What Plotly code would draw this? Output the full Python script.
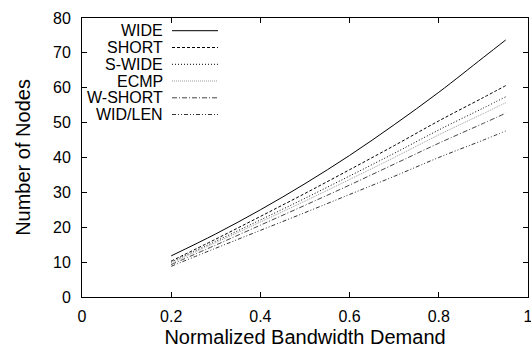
import plotly.graph_objects as go

x_vals = [0.2, 0.3, 0.4, 0.5, 0.6, 0.7, 0.8, 0.9, 0.95]
wide = [11.8, 18.1, 25.0, 32.5, 40.6, 49.4, 58.7, 68.7, 73.7]
short = [10.3, 16.6, 23.1, 29.7, 36.5, 43.4, 50.5, 57.2, 60.6]
s_wide = [10.0, 16.0, 22.1, 28.3, 34.7, 41.2, 47.9, 54.2, 57.4]
ecmp = [9.7, 15.6, 21.5, 27.5, 33.7, 40.0, 46.5, 52.6, 55.7]
w_short = [9.3, 14.9, 20.6, 26.3, 32.1, 38.1, 44.1, 49.8, 52.7]
wid_len = [8.8, 14.0, 19.1, 24.2, 29.4, 34.6, 40.0, 45.0, 47.6]

series_names = ["WIDE", "SHORT", "S-WIDE", "ECMP", "W-SHORT", "WID/LEN"]
series_vals = [wide, short, s_wide, ecmp, w_short, wid_len]
styles = [
    ("#000000", "solid"),
    ("#000000", "3px,2px"),
    ("#000000", "1px,2px"),
    ("#999999", "1px,1px"),
    ("#444444", "5px,2px,1px,2px"),
    ("#333333", "4px,2px,1px,2px,1px,2px"),
]

FONT = "Liberation Sans, Arial"

fig = go.Figure()
for name, vals, (col, dash) in zip(series_names, series_vals, styles):
    fig.add_trace(go.Scatter(x=x_vals, y=vals, mode="lines", name=name,
                             line=dict(color=col, width=1, dash=dash, shape="spline"),
                             showlegend=False))

# manual gnuplot-style legend (text right, sample to its right)
W, H = 531, 348
ml, mr, mt, mb = 82, 3, 18, 51
pw, ph = W - ml - mr, H - mt - mb
row_y = [30.7, 47.5, 64.3, 81.0, 97.8, 114.5]
for i, (name, (col, dash)) in enumerate(zip(series_names, styles)):
    yp = 1 - (row_y[i] - mt) / ph
    fig.add_annotation(x=(162 - ml) / pw, y=yp, xref="paper", yref="paper",
                       text=name, showarrow=False, xanchor="right", yanchor="middle",
                       xshift=2, borderpad=0,
                       font=dict(family=FONT, size=16, color="black"))
    fig.add_shape(type="line", xref="paper", yref="paper",
                  x0=(172 - ml) / pw, x1=(218 - ml) / pw, y0=yp, y1=yp,
                  line=dict(color=col, width=1, dash=dash))

axis_common = dict(showline=True, linecolor="black", linewidth=1, mirror="ticks",
                   ticks="inside", ticklen=5, tickcolor="black", showgrid=False,
                   zeroline=False, ticklabeloverflow="allow", automargin=False,
                   tickfont=dict(family=FONT, size=16, color="black"))

fig.update_layout(
    width=W, height=H,
    margin=dict(l=ml, r=mr, t=mt, b=mb),
    plot_bgcolor="white", paper_bgcolor="white",
    xaxis=dict(range=[0, 1], tickvals=[0, 0.2, 0.4, 0.6, 0.8, 1],
               ticktext=["0", "0.2", "0.4", "0.6", "0.8", "1"],
               title=dict(text="Normalized Bandwidth Demand", standoff=11,
                          font=dict(family=FONT, size=20, color="black")),
               ticklabelstandoff=5, **axis_common),
    yaxis=dict(range=[0, 80], tickvals=[0, 10, 20, 30, 40, 50, 60, 70, 80],
               title=dict(text="Number of Nodes", standoff=17,
                          font=dict(family=FONT, size=20, color="black")),
               ticklabelstandoff=7, **axis_common),
)

fig.write_html("out.html")
